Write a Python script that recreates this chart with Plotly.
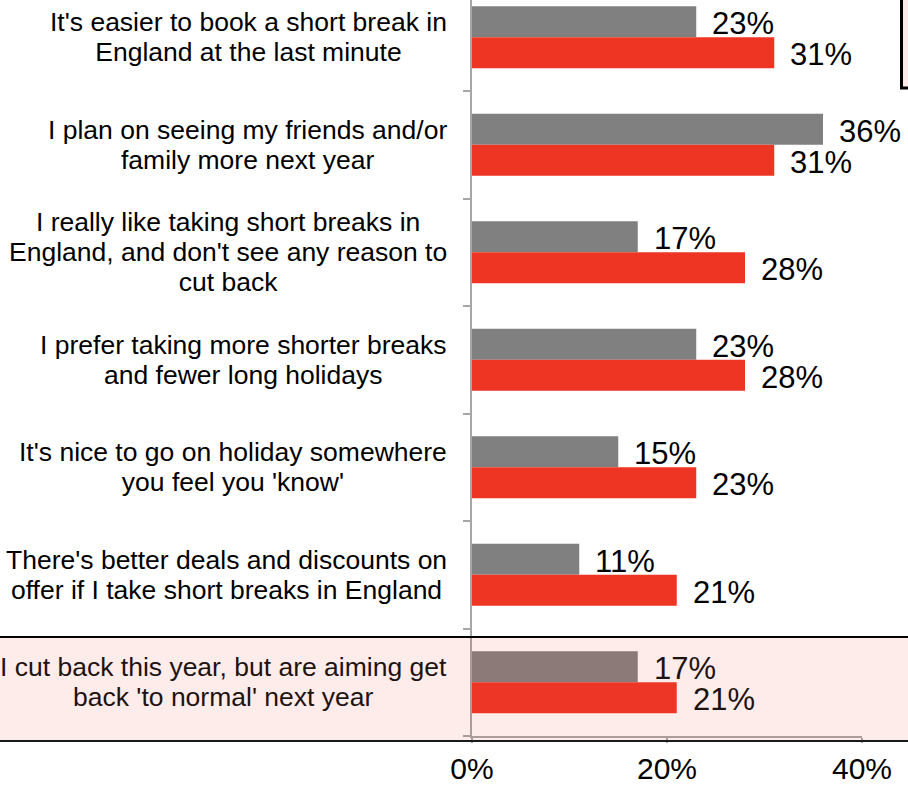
import plotly.graph_objects as go

# Survey statements (top to bottom) and the share agreeing in each group
categories = [
    "It's easier to book a short break in<br>England at the last minute",
    "I plan on seeing my friends and/or<br>family more next year",
    "I really like taking short breaks in<br>England, and don't see any reason to<br>cut back",
    "I prefer taking more shorter breaks<br>and fewer long holidays",
    "It's nice to go on holiday somewhere<br>you feel you 'know'",
    "There's better deals and discounts on<br>offer if I take short breaks in England",
    "I cut back this year, but are aiming get<br>back 'to normal' next year",
]
grey_values = [23, 36, 17, 23, 15, 11, 17]
red_values = [31, 31, 28, 28, 23, 21, 21]
x_ticks = [0, 20, 40]
x_tick_labels = ["0%", "20%", "40%"]

GREY = "#808080"
RED = "#ee3524"
PINK = "#fcebe9"
FONT = "Arial, Liberation Sans, sans-serif"

W, H = 908, 787
M_L, M_R, M_T, M_B = 472, 46, 0, 51
PLOT_H = H - M_T - M_B
Y_BOTTOM, Y_TOP = 6.5, -0.347
BAR_W = 0.288

ypos = list(range(len(categories)))


def px_to_paper_y(p):
    return (M_T + PLOT_H - p) / PLOT_H


def px_to_paper_x(p):
    return (p - M_L) / (W - M_L - M_R)


def wrap_lines(label, size):
    # larger glyphs on a tighter line pitch than the annotation's base size
    return "<br>".join(
        f'<span style="font-size:{size}px">{line}</span>' for line in label.split("<br>")
    )


fig = go.Figure()
fig.add_trace(go.Bar(
    y=ypos, x=grey_values, orientation="h", width=BAR_W, offset=-BAR_W,
    marker=dict(color=GREY, line=dict(width=0)), hoverinfo="x",
))
fig.add_trace(go.Bar(
    y=ypos, x=red_values, orientation="h", width=BAR_W, offset=0,
    marker=dict(color=RED, line=dict(width=0)), hoverinfo="x",
))

highlight = len(categories) - 1
annotations = []
for i, (label, g, r) in enumerate(zip(categories, grey_values, red_values)):
    txt_col = "#1f1311" if i == highlight else "#000000"
    annotations.append(dict(
        x=0, xref="paper", xshift=-23, xanchor="right",
        y=i, yref="y", yanchor="middle", align="center",
        text=wrap_lines(label, 26.5), showarrow=False,
        font=dict(family=FONT, size=23, color=txt_col),
    ))
    for val, center in ((g, i - BAR_W / 2), (r, i + BAR_W / 2)):
        annotations.append(dict(
            x=val, xref="x", xanchor="left", xshift=14,
            y=center, yref="y", yanchor="middle", yshift=-2,
            text=f"{val}%", showarrow=False,
            font=dict(family=FONT, size=31, color=txt_col),
        ))

# Highlight band around the last statement
band_top = px_to_paper_y(637)
band_bot = px_to_paper_y(741)
x_left = px_to_paper_x(-20)
x_right = px_to_paper_x(W + 20)
shapes = [
    dict(type="rect", xref="paper", yref="paper", x0=x_left, x1=x_right,
         y0=band_bot, y1=band_top, fillcolor="rgba(240,70,50,0.1)",
         line=dict(width=0), layer="above"),
    dict(type="line", xref="paper", yref="paper", x0=x_left, x1=x_right,
         y0=band_top, y1=band_top, line=dict(color="#000000", width=2), layer="above"),
    dict(type="line", xref="paper", yref="paper", x0=x_left, x1=x_right,
         y0=band_bot, y1=band_bot, line=dict(color="#1a1a1a", width=2), layer="above"),
    # legend frame in the top-right corner
    dict(type="rect", xref="paper", yref="paper",
         x0=px_to_paper_x(901.5), x1=px_to_paper_x(W + 20),
         y0=px_to_paper_y(88), y1=px_to_paper_y(-20),
         fillcolor=PINK, line=dict(color="#000000", width=3), layer="above"),
]

fig.update_layout(
    width=W, height=H,
    margin=dict(l=M_L, r=M_R, t=M_T, b=M_B, pad=0, autoexpand=False),
    paper_bgcolor="white", plot_bgcolor="white",
    showlegend=False, barmode="overlay",
    font=dict(family=FONT, color="#000000"),
    annotations=annotations, shapes=shapes,
    xaxis=dict(
        range=[0, 40], tickvals=x_ticks, ticktext=x_tick_labels,
        showgrid=False, zeroline=False, showline=True, automargin=False,
        linecolor="#a6a6a6", linewidth=1.5,
        ticks="outside", ticklen=5, tickwidth=1.5, tickcolor="#a6a6a6",
        tickfont=dict(family=FONT, size=30, color="#000000"),
        ticklabelstandoff=0,
    ),
    yaxis=dict(
        range=[Y_BOTTOM, Y_TOP], tickvals=[v + 0.5 for v in ypos],
        ticktext=["" for _ in ypos], showgrid=False, zeroline=False,
        showline=True, automargin=False, linecolor="#a6a6a6", linewidth=1.5,
        ticks="outside", ticklen=7, tickwidth=1.5, tickcolor="#a6a6a6",
    ),
)

fig.write_html("out.html")
